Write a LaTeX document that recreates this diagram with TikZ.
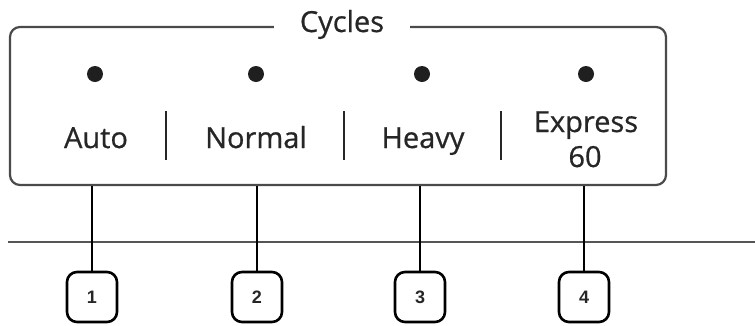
\documentclass[tikz,border=0pt]{standalone}
\usepackage{fontspec}
\setmainfont{Open Sans}[FakeBold=1.2]
\newfontfamily\lblfont{Open Sans}[FakeBold=0.7]
\newfontfamily\numfont{Liberation Sans}
\definecolor{txt}{HTML}{262626}
\definecolor{frame}{HTML}{4A4A4A}
\definecolor{rule}{HTML}{555555}
\begin{document}
\begin{tikzpicture}[x=1pt,y=-1pt,
  lbl/.style={text=txt, font=\lblfont\fontsize{29}{32}\selectfont, anchor=base, inner sep=0pt},
  dotnode/.style={circle, fill=black!88, minimum size=16pt, inner sep=0pt},
  sep/.style={draw=txt, line width=2pt},
  numbox/.style={draw=black, line width=2.6pt, rounded corners=10pt, minimum width=50pt, minimum height=50pt, inner sep=0pt, font=\numfont\bfseries\fontsize{18}{18}\selectfont, text=txt},
  conn/.style={draw=black, line width=2.6pt}]
\useasboundingbox (0,0) rectangle (755,325);
% horizontal rule
\coordinate (hl) at (8,242);
\coordinate (hr) at (755,242);
\draw[rule, line width=2.8pt] (hl) -- (hr);
% panel
\node[draw=frame, line width=2.2pt, rounded corners=10pt, minimum width=656pt, minimum height=158pt, inner sep=0pt] (panel) at (338,106) {};
\node[lbl, fill=white, minimum width=136pt, text depth=6pt, text height=20pt] (title) at (342,32) {Cycles};
% dots
\node[dotnode] (d1) at (95,74) {};
\node[dotnode] (d2) at (256,74) {};
\node[dotnode] (d3) at (422,74) {};
\node[dotnode] (d4) at (586,74) {};
% labels
\node[lbl] (auto) at (96,148) {Auto};
\node[lbl] (normal) at (256,148) {Normal};
\node[lbl] (heavy) at (423,148) {Heavy};
\node[lbl] (express) at (586,132) {Express};
\node[lbl] (sixty) at (585,167) {60};
% separators
\coordinate (s1t) at (166,111); \coordinate (s1b) at (166,160);
\coordinate (s2t) at (344,111); \coordinate (s2b) at (344,160);
\coordinate (s3t) at (501,111); \coordinate (s3b) at (501,160);
\draw[sep] (s1t) -- (s1b);
\draw[sep] (s2t) -- (s2b);
\draw[sep] (s3t) -- (s3b);
% number boxes
\node[numbox] (b1) at (92,297) {1};
\node[numbox] (b2) at (257,297) {2};
\node[numbox] (b3) at (420,297) {3};
\node[numbox] (b4) at (584,297) {4};
\foreach \b in {b1,b2,b3,b4}
  \draw[conn] (\b.north) -- (\b.north |- panel.south);
\end{tikzpicture}
\end{document}
